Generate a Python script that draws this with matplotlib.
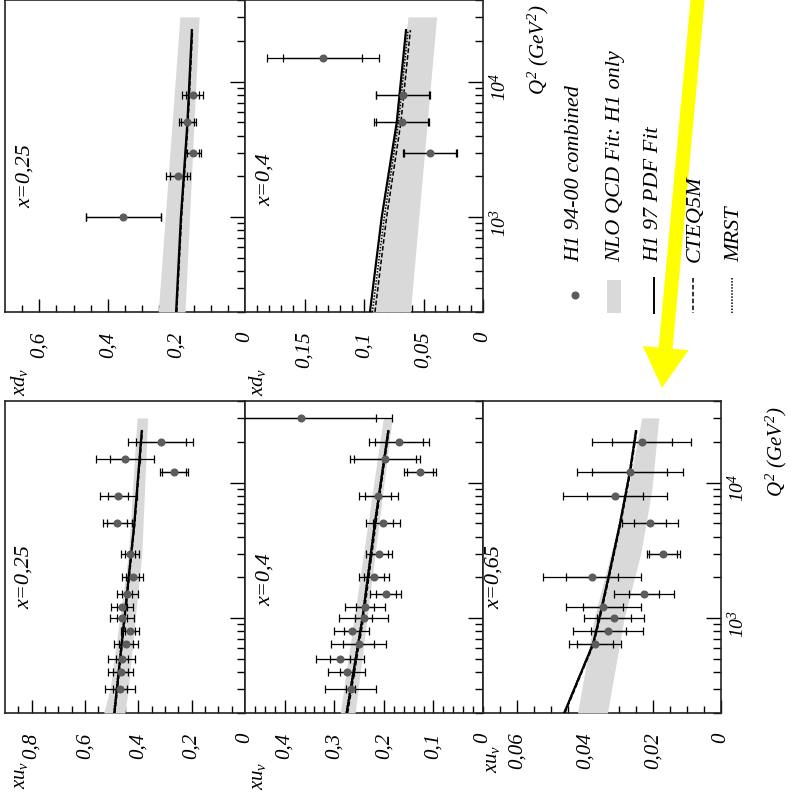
import numpy as np
import matplotlib
matplotlib.use('Agg')
import matplotlib.pyplot as plt
from matplotlib.ticker import FixedLocator, LogLocator, NullFormatter
from matplotlib.patches import Rectangle, FancyArrow

plt.rcParams['font.family'] = 'Liberation Serif'
plt.rcParams['font.style'] = 'italic'
plt.rcParams['mathtext.fontset'] = 'custom'
plt.rcParams['mathtext.rm'] = 'Liberation Serif:italic'
plt.rcParams['mathtext.it'] = 'Liberation Serif:italic'

# ---------------- data: xu_v, x=0.25 ----------------
q2_u25 = [300, 400, 500, 650, 800, 1000, 1200, 1500, 2000, 3000, 5000, 8000, 12000, 15000, 20000]
val_u25 = [0.469, 0.466, 0.462, 0.446, 0.431, 0.462, 0.462, 0.441, 0.421, 0.431, 0.479, 0.475, 0.266, 0.450, 0.316]
tot_u25 = [0.056, 0.046, 0.050, 0.046, 0.035, 0.044, 0.041, 0.038, 0.040, 0.035, 0.054, 0.069, 0.053, 0.110, 0.122]
stat_u25 = [0.025, 0.028, 0.023, 0.025, 0.019, 0.019, 0.019, 0.019, 0.025, 0.019, 0.038, 0.038, 0.044, 0.056, 0.094]
cq_u25 = [200, 1000, 5000, 24000]
h1_u25 = [0.490, 0.452, 0.415, 0.387]
cteq_u25 = [0.488, 0.450, 0.413, 0.385]
mrst_u25 = [0.492, 0.454, 0.416, 0.388]
bq_u25 = [200, 300, 3000, 30000]
blo_u25 = [0.450, 0.438, 0.387, 0.365]
bhi_u25 = [0.530, 0.506, 0.437, 0.405]

# ---------------- data: xu_v, x=0.4 ----------------
q2_u40 = [300, 400, 500, 650, 800, 1000, 1200, 1500, 2000, 3000, 5000, 8000, 12000, 15000, 20000, 30000]
val_u40 = [0.267, 0.275, 0.288, 0.251, 0.265, 0.241, 0.238, 0.196, 0.220, 0.209, 0.201, 0.211, 0.127, 0.198, 0.169, 0.368]
tot_u40 = [0.052, 0.038, 0.048, 0.056, 0.035, 0.049, 0.040, 0.031, 0.030, 0.026, 0.034, 0.040, 0.032, 0.071, 0.061, 0.184]
stat_u40 = [0.009, 0.014, 0.020, 0.032, 0.016, 0.018, 0.018, 0.020, 0.021, 0.017, 0.020, 0.026, 0.027, 0.063, 0.048, 0.153]
cq_u40 = [200, 1000, 5000, 24000]
h1_u40 = [0.275, 0.243, 0.218, 0.191]
cteq_u40 = [0.273, 0.241, 0.216, 0.190]
mrst_u40 = [0.276, 0.244, 0.219, 0.192]
bq_u40 = [200, 30000]
blo_u40 = [0.258, 0.183]
bhi_u40 = [0.288, 0.201]

# ---------------- data: xu_v, x=0.65 ----------------
q2_u65 = [650, 800, 1000, 1200, 1500, 2000, 3000, 5000, 8000, 12000, 20000]
val_u65 = [0.0371, 0.0331, 0.0315, 0.0346, 0.0226, 0.0380, 0.0170, 0.0209, 0.0312, 0.0268, 0.0233]
tot_u65 = [0.0077, 0.0103, 0.0089, 0.0110, 0.0089, 0.0144, 0.0049, 0.0083, 0.0152, 0.0157, 0.0146]
stat_u65 = [0.0054, 0.0051, 0.0049, 0.0059, 0.0044, 0.0076, 0.0041, 0.0047, 0.0083, 0.0110, 0.0089]
cq_u65 = [200, 650, 1000, 2000, 5000, 12000, 24000]
h1_u65 = [0.0461, 0.0376, 0.0358, 0.0331, 0.0297, 0.0268, 0.0250]
cteq_u65 = [0.0459, 0.0374, 0.0356, 0.0329, 0.0295, 0.0266, 0.0248]
mrst_u65 = [0.0462, 0.0377, 0.0359, 0.0332, 0.0298, 0.0269, 0.0251]
bq_u65 = [200, 1000, 3000, 9000, 30000]
blo_u65 = [0.0334, 0.0285, 0.0236, 0.0203, 0.0183]
bhi_u65 = [0.0422, 0.0373, 0.0324, 0.0273, 0.0233]

# ---------------- data: xd_v, x=0.25 ----------------
q2_d25 = [1000, 2000, 3000, 5000, 8000]
val_d25 = [0.355, 0.195, 0.151, 0.168, 0.153]
tot_d25 = [0.110, 0.035, 0.024, 0.025, 0.030]
stat_d25 = [0.110, 0.025, 0.018, 0.018, 0.020]
cq_d25 = [200, 1000, 5000, 24000]
h1_d25 = [0.201, 0.187, 0.168, 0.155]
cteq_d25 = [0.199, 0.185, 0.166, 0.153]
mrst_d25 = [0.200, 0.186, 0.167, 0.154]
bq_d25 = [200, 30000]
blo_d25 = [0.175, 0.134]
bhi_d25 = [0.253, 0.190]

# ---------------- data: xd_v, x=0.4 ----------------
q2_d40 = [3000, 5000, 8000, 15000]
val_d40 = [0.0445, 0.0683, 0.0675, 0.1347]
tot_d40 = [0.023, 0.023, 0.0228, 0.047]
stat_d40 = [0.022, 0.022, 0.022, 0.033]
cq_d40 = [200, 1000, 5000, 24000]
h1_d40 = [0.0950, 0.0851, 0.0725, 0.0647]
cteq_d40 = [0.0908, 0.0810, 0.0690, 0.0610]
mrst_d40 = [0.0930, 0.0830, 0.0710, 0.0630]
bq_d40 = [200, 30000]
blo_d40 = [0.061, 0.039]
bhi_d40 = [0.093, 0.063]

W, H = 791.0, 797.0
fig = plt.figure(figsize=(W / 100, H / 100), dpi=100)


def px_rect(x0, y0, x1, y1):
    return [x0 / W, 1 - y1 / H, (x1 - x0) / W, (y1 - y0) / H]


def panel(rect, vmax, ticks, labels, minor, pts, curves, band, show_q2):
    ax = fig.add_axes(rect)
    ax.set_yscale('log')
    ax.set_xlim(vmax, 0)
    ax.set_ylim(200, 40000)
    bq, blo, bhi = band
    ax.fill_betweenx(bq, blo, bhi, color='#d9d9d9', lw=0, zorder=3)
    cq, c1, c2, c3 = curves
    ax.plot(c1, cq, color='k', lw=1.6, zorder=4)
    ax.plot(c2, cq, color='k', lw=1.1, ls=(0, (3, 1.5)), zorder=4)
    ax.plot(c3, cq, color='k', lw=1.1, ls=(0, (1, 1)), zorder=4)
    q, v, tot, stat = pts
    ax.errorbar(v, q, xerr=tot, fmt='none', ecolor='k', elinewidth=0.9,
                capsize=3, capthick=0.9, zorder=5)
    ax.errorbar(v, q, xerr=stat, fmt='none', ecolor='k', elinewidth=0.9,
                capsize=3, capthick=0.9, zorder=5)
    ax.plot(v, q, 'o', color='#5c5c5c', ms=4.8, zorder=6)
    # value axis (horizontal, 0 at right)
    ax.xaxis.set_major_locator(FixedLocator(ticks))
    ax.set_xticklabels(labels)
    ax.xaxis.set_minor_locator(FixedLocator(minor))
    ax.tick_params(axis='x', which='major', direction='in', length=9.5, width=1,
                   labelsize=15, labelrotation=90, pad=14)
    ax.tick_params(axis='x', which='minor', direction='in', length=5, width=1)
    # Q2 axis (vertical, ticks on the right)
    ax.set_yticks([1e3, 1e4])
    ax.set_yticklabels([r'$10^{3}$', r'$10^{4}$'])
    ax.yaxis.set_minor_locator(LogLocator(base=10, subs=np.arange(2, 10)))
    ax.yaxis.set_minor_formatter(NullFormatter())
    ax.tick_params(axis='y', which='both', direction='in', left=False, right=True,
                   labelleft=False, labelright=show_q2, width=1)
    ax.tick_params(axis='y', which='major', length=11, labelsize=14,
                   labelrotation=90, pad=4)
    ax.tick_params(axis='y', which='minor', length=6)
    for s in ax.spines.values():
        s.set_linewidth(1.2)
        s.set_color('#222222')
    return ax


# bottom row: xu_v
panel(px_rect(5, 401, 245, 713), 0.9, [0, 0.2, 0.4, 0.6, 0.8],
      ['0', '0,2', '0,4', '0,6', '0,8'], np.arange(0, 0.9, 0.05),
      (q2_u25, val_u25, tot_u25, stat_u25), (cq_u25, h1_u25, cteq_u25, mrst_u25),
      (bq_u25, blo_u25, bhi_u25), False)
panel(px_rect(245, 401, 483, 713), 0.48, [0, 0.1, 0.2, 0.3, 0.4],
      ['0', '0,1', '0,2', '0,3', '0,4'], np.arange(0, 0.48, 0.02),
      (q2_u40, val_u40, tot_u40, stat_u40), (cq_u40, h1_u40, cteq_u40, mrst_u40),
      (bq_u40, blo_u40, bhi_u40), False)
panel(px_rect(483, 401, 721, 713), 0.07, [0, 0.02, 0.04, 0.06],
      ['0', '0,02', '0,04', '0,06'], np.arange(0, 0.07, 0.005),
      (q2_u65, val_u65, tot_u65, stat_u65), (cq_u65, h1_u65, cteq_u65, mrst_u65),
      (bq_u65, blo_u65, bhi_u65), True)
# top row: xd_v
panel(px_rect(5, 0, 245, 312), 0.7, [0, 0.2, 0.4, 0.6],
      ['0', '0,2', '0,4', '0,6'], np.arange(0, 0.7, 0.05),
      (q2_d25, val_d25, tot_d25, stat_d25), (cq_d25, h1_d25, cteq_d25, mrst_d25),
      (bq_d25, blo_d25, bhi_d25), False)
panel(px_rect(245, 0, 483, 312), 0.2, [0, 0.05, 0.1, 0.15],
      ['0', '0,05', '0,1', '0,15'], np.arange(0, 0.2, 0.01),
      (q2_d40, val_d40, tot_d40, stat_d40), (cq_d40, h1_d40, cteq_d40, mrst_d40),
      (bq_d40, blo_d40, bhi_d40), True)

# overlay in pixel coordinates for free text, legend and arrow
ov = fig.add_axes([0, 0, 1, 1], zorder=10)
ov.set_xlim(0, W)
ov.set_ylim(H, 0)
ov.axis('off')
ov.patch.set_alpha(0)

for (x, y, s) in [(24, 577, 'x=0,25'), (265, 580, 'x=0,4'), (494, 577, 'x=0,65'),
                  (25, 176, 'x=0,25'), (265, 180, 'x=0,4')]:
    ov.text(x, y, s, rotation=90, ha='center', va='center', fontsize=16)

for (x, y, s) in [(20, 775, r'$xu_v$'), (258, 776, r'$xu_v$'), (493, 759, r'$xu_v$'),
                  (20, 382, r'$xd_v$'), (257, 382, r'$xd_v$')]:
    ov.text(x, y, s, rotation=90, ha='center', va='center', fontsize=15)

ov.text(776, 497, r'$Q^2\ (GeV^2)$', rotation=90, ha='center', va='bottom', fontsize=15)
ov.text(538, 95, r'$Q^2\ (GeV^2)$', rotation=90, ha='center', va='bottom', fontsize=15)

# legend
ov.plot([575], [295], 'o', color='#5c5c5c', ms=4.8)
ov.add_patch(Rectangle((607, 280), 14, 33, color='#d9d9d9', lw=0))
ov.plot([654, 654], [278, 313], color='k', lw=1.4)
ov.plot([693, 693], [278, 313], color='k', lw=1.1, ls=(0, (3, 1.5)))
ov.plot([732, 732], [278, 313], color='k', lw=1.1, ls=(0, (1, 1)))
for (x, s) in [(575, 'H1 94-00 combined'), (616, 'NLO QCD Fit: H1 only'),
               (654, 'H1 97 PDF Fit'), (695, 'CTEQ5M'), (735, 'MRST')]:
    ov.text(x, 262, s, rotation=90, ha='center', va='bottom', fontsize=16)

# yellow arrow
ov.add_patch(FancyArrow(698, -5, -36, 393, width=14, head_width=46, head_length=40,
                        length_includes_head=True, color='#ffff00', lw=0))

fig.savefig('out.png', dpi=100)
